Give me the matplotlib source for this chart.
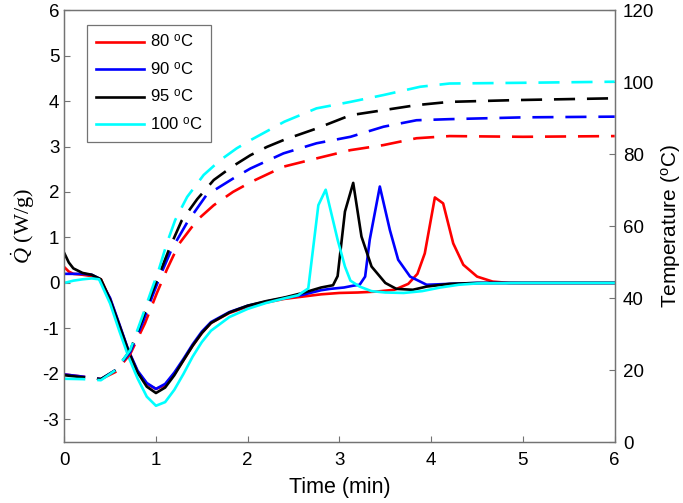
import matplotlib
matplotlib.use("Agg")
import matplotlib.pyplot as plt

plt.rcParams['font.family'] = ['Liberation Sans', 'DejaVu Sans']
plt.rcParams['mathtext.fontset'] = 'custom'
plt.rcParams['mathtext.rm'] = 'Liberation Sans'
plt.rcParams['mathtext.it'] = 'Liberation Serif:italic'
plt.rcParams['axes.unicode_minus'] = False

# heat flow curves (left axis), time in min
t_80 = [0, 0.05, 0.1, 0.2, 0.3, 0.4, 0.5, 0.6, 0.7, 0.8, 0.9, 1.0, 1.1, 1.2, 1.3, 1.4, 1.5, 1.6, 1.8, 2.0,
        2.2, 2.4, 2.6, 2.8, 3.0, 3.2, 3.4, 3.6, 3.75, 3.85, 3.93, 4.04, 4.13, 4.24, 4.35, 4.5, 4.67, 4.85, 5.0, 5.5, 6.0]
q_80 = [0.35, 0.25, 0.2, 0.18, 0.15, 0.08, -0.35, -0.92, -1.5, -1.95, -2.22, -2.33, -2.25, -2.0, -1.7, -1.38, -1.1,
        -0.88, -0.66, -0.52, -0.43, -0.35, -0.3, -0.25, -0.22, -0.21, -0.19, -0.15, -0.02, 0.2, 0.65, 1.88, 1.75,
        0.87, 0.40, 0.14, 0.03, 0.0, 0.0, 0.0, 0.0]

t_90 = [0, 0.1, 0.2, 0.3, 0.38, 0.5, 0.6, 0.7, 0.8, 0.9, 1.0, 1.1, 1.2, 1.3, 1.4, 1.5, 1.6, 1.8, 2.0, 2.2, 2.4,
        2.6, 2.8, 2.9, 3.05, 3.15, 3.22, 3.28, 3.33, 3.44, 3.55, 3.64, 3.77, 3.95, 4.2, 4.5, 5.0, 6.0]
q_90 = [0.2, 0.2, 0.2, 0.18, 0.1, -0.33, -0.9, -1.48, -1.93, -2.2, -2.33, -2.22, -1.97, -1.67, -1.35, -1.07, -0.86,
        -0.64, -0.5, -0.41, -0.33, -0.26, -0.16, -0.13, -0.1, -0.06, -0.04, 0.14, 0.95, 2.12, 1.16, 0.51, 0.14,
        -0.04, -0.02, 0.0, 0.0, 0.0]

t_95 = [0, 0.05, 0.1, 0.2, 0.3, 0.4, 0.5, 0.6, 0.7, 0.8, 0.9, 1.0, 1.1, 1.2, 1.3, 1.4, 1.5, 1.6, 1.8, 2.0, 2.2,
        2.4, 2.6, 2.8, 2.93, 2.98, 3.06, 3.15, 3.24, 3.35, 3.5, 3.62, 3.8, 3.95, 4.2, 4.5, 5.0, 6.0]
q_95 = [0.66, 0.45, 0.32, 0.22, 0.18, 0.08, -0.37, -0.93, -1.5, -1.97, -2.28, -2.42, -2.3, -2.03, -1.7, -1.38,
        -1.1, -0.88, -0.65, -0.5, -0.4, -0.32, -0.22, -0.1, -0.05, 0.15, 1.57, 2.2, 1.02, 0.36, 0.0, -0.13, -0.15,
        -0.08, -0.02, 0.0, 0.0, 0.0]

t_100 = [0, 0.1, 0.2, 0.3, 0.38, 0.5, 0.6, 0.7, 0.8, 0.9, 1.0, 1.1, 1.2, 1.3, 1.4, 1.5, 1.6, 1.8, 2.0, 2.2, 2.4,
         2.55, 2.66, 2.77, 2.85, 2.98, 3.06, 3.12, 3.22, 3.35, 3.5, 3.7, 3.9, 4.1, 4.3, 4.5, 5.0, 6.0]
q_100 = [0.0, 0.05, 0.08, 0.1, 0.08, -0.45, -1.05, -1.62, -2.1, -2.5, -2.7, -2.62, -2.35, -2.0, -1.62, -1.3,
         -1.05, -0.75, -0.57, -0.44, -0.34, -0.27, -0.12, 1.71, 2.05, 0.95, 0.36, 0.05, -0.08, -0.18, -0.21,
         -0.22, -0.18, -0.1, -0.04, -0.01, 0.0, 0.0]

# temperature curves (right axis)
tt_80 = [0, 0.2, 0.4, 0.56, 0.72, 0.88, 1.01, 1.12, 1.25, 1.45, 1.63, 1.84, 2.04, 2.39, 2.75, 3.12, 3.48, 3.84,
         4.2, 5.0, 6.0]
T_80 = [18.8, 18.2, 17.5, 19.5, 24.5, 33, 41.4, 48, 55, 61.7, 65.8, 69.5, 72.3, 76.5, 78.8, 81.1, 82.5, 84.4,
        85, 84.8, 85]

tt_90 = [0, 0.2, 0.4, 0.56, 0.72, 0.86, 0.96, 1.06, 1.17, 1.34, 1.55, 1.84, 2.03, 2.39, 2.75, 3.12, 3.48, 3.84,
         4.2, 5.0, 6.0]
T_90 = [18.8, 18.2, 17.5, 20, 25, 33.5, 40.5, 47, 53.5, 61, 68.6, 73.2, 76, 80.2, 83, 84.8, 87.6, 89.4, 89.7,
        90.2, 90.4]

tt_95 = [0, 0.2, 0.4, 0.56, 0.72, 0.85, 0.95, 1.05, 1.15, 1.28, 1.45, 1.63, 1.83, 2.03, 2.21, 2.4, 2.75, 3.12,
         3.48, 3.84, 4.2, 4.93, 6.0]
T_95 = [18.6, 18, 17.5, 20, 25.5, 34, 41, 47.5, 54, 61.5, 67.5, 72.8, 76.5, 79.7, 82, 84, 87.1, 90.8, 92.2,
        93.6, 94.5, 95, 95.5]

tt_100 = [0, 0.2, 0.4, 0.56, 0.72, 0.85, 0.94, 1.03, 1.12, 1.21, 1.34, 1.52, 1.7, 1.88, 2.04, 2.4, 2.75, 3.12,
          3.48, 3.88, 4.2, 5.0, 6.0]
T_100 = [17.6, 17.5, 17.2, 20, 25.6, 34.8, 41.4, 47.8, 55.3, 61.7, 68.1, 74.2, 78.3, 81.6, 84, 89, 92.7, 94.5,
         96.4, 98.7, 99.6, 99.8, 100.1]

labels = ['80 $^{\\mathrm{o}}$C', '90 $^{\\mathrm{o}}$C', '95 $^{\\mathrm{o}}$C', '100 $^{\\mathrm{o}}$C']
colors = ['#ff0000', '#0000ff', '#000000', '#00ffff']

fig = plt.figure(figsize=(6.83, 5.03), dpi=100)
ax = fig.add_axes([0.094, 0.121, 0.806, 0.859])
ax2 = ax.twinx()

q_t = [t_80, t_90, t_95, t_100]
q_v = [q_80, q_90, q_95, q_100]
T_t = [tt_80, tt_90, tt_95, tt_100]
T_v = [T_80, T_90, T_95, T_100]

for i in range(4):
    ax.plot(q_t[i], q_v[i], color=colors[i], lw=1.9, label=labels[i])
    ax2.plot(T_t[i], T_v[i], color=colors[i], lw=1.9, dashes=(8, 4.5))

ax.set_xlim(0, 6)
ax.set_ylim(-3.5, 6)
ax2.set_ylim(0, 120)
ax.set_xticks(range(0, 7))
ax.set_yticks(range(-3, 7))
ax2.set_yticks(range(0, 121, 20))

for a in (ax, ax2):
    for s in a.spines.values():
        s.set_color('0.45')
        s.set_linewidth(0.9)
    a.tick_params(direction='in', length=4, width=0.8, color='0.45', labelsize=13.5, labelcolor='black')
ax.tick_params(axis='x', pad=7)
ax2.tick_params(axis='y', pad=6)

ax.set_xlabel('Time (min)', fontsize=15.5, labelpad=6)
ax.set_ylabel('$\\dot{Q}$ (W/g)', fontsize=16, family='Liberation Serif', labelpad=4)
ax2.set_ylabel('Temperature ($^{\\mathrm{o}}$C)', fontsize=15, labelpad=3)

leg = ax.legend(loc='upper left', bbox_to_anchor=(0.042, 0.965), borderaxespad=0, fontsize=12,
                handlelength=2.9, handletextpad=0.35, labelspacing=0.62, fancybox=False, framealpha=1,
                borderpad=0.5)
leg.get_frame().set_edgecolor('0.45')
leg.get_frame().set_linewidth(0.9)

fig.savefig('out.png', dpi=100)
